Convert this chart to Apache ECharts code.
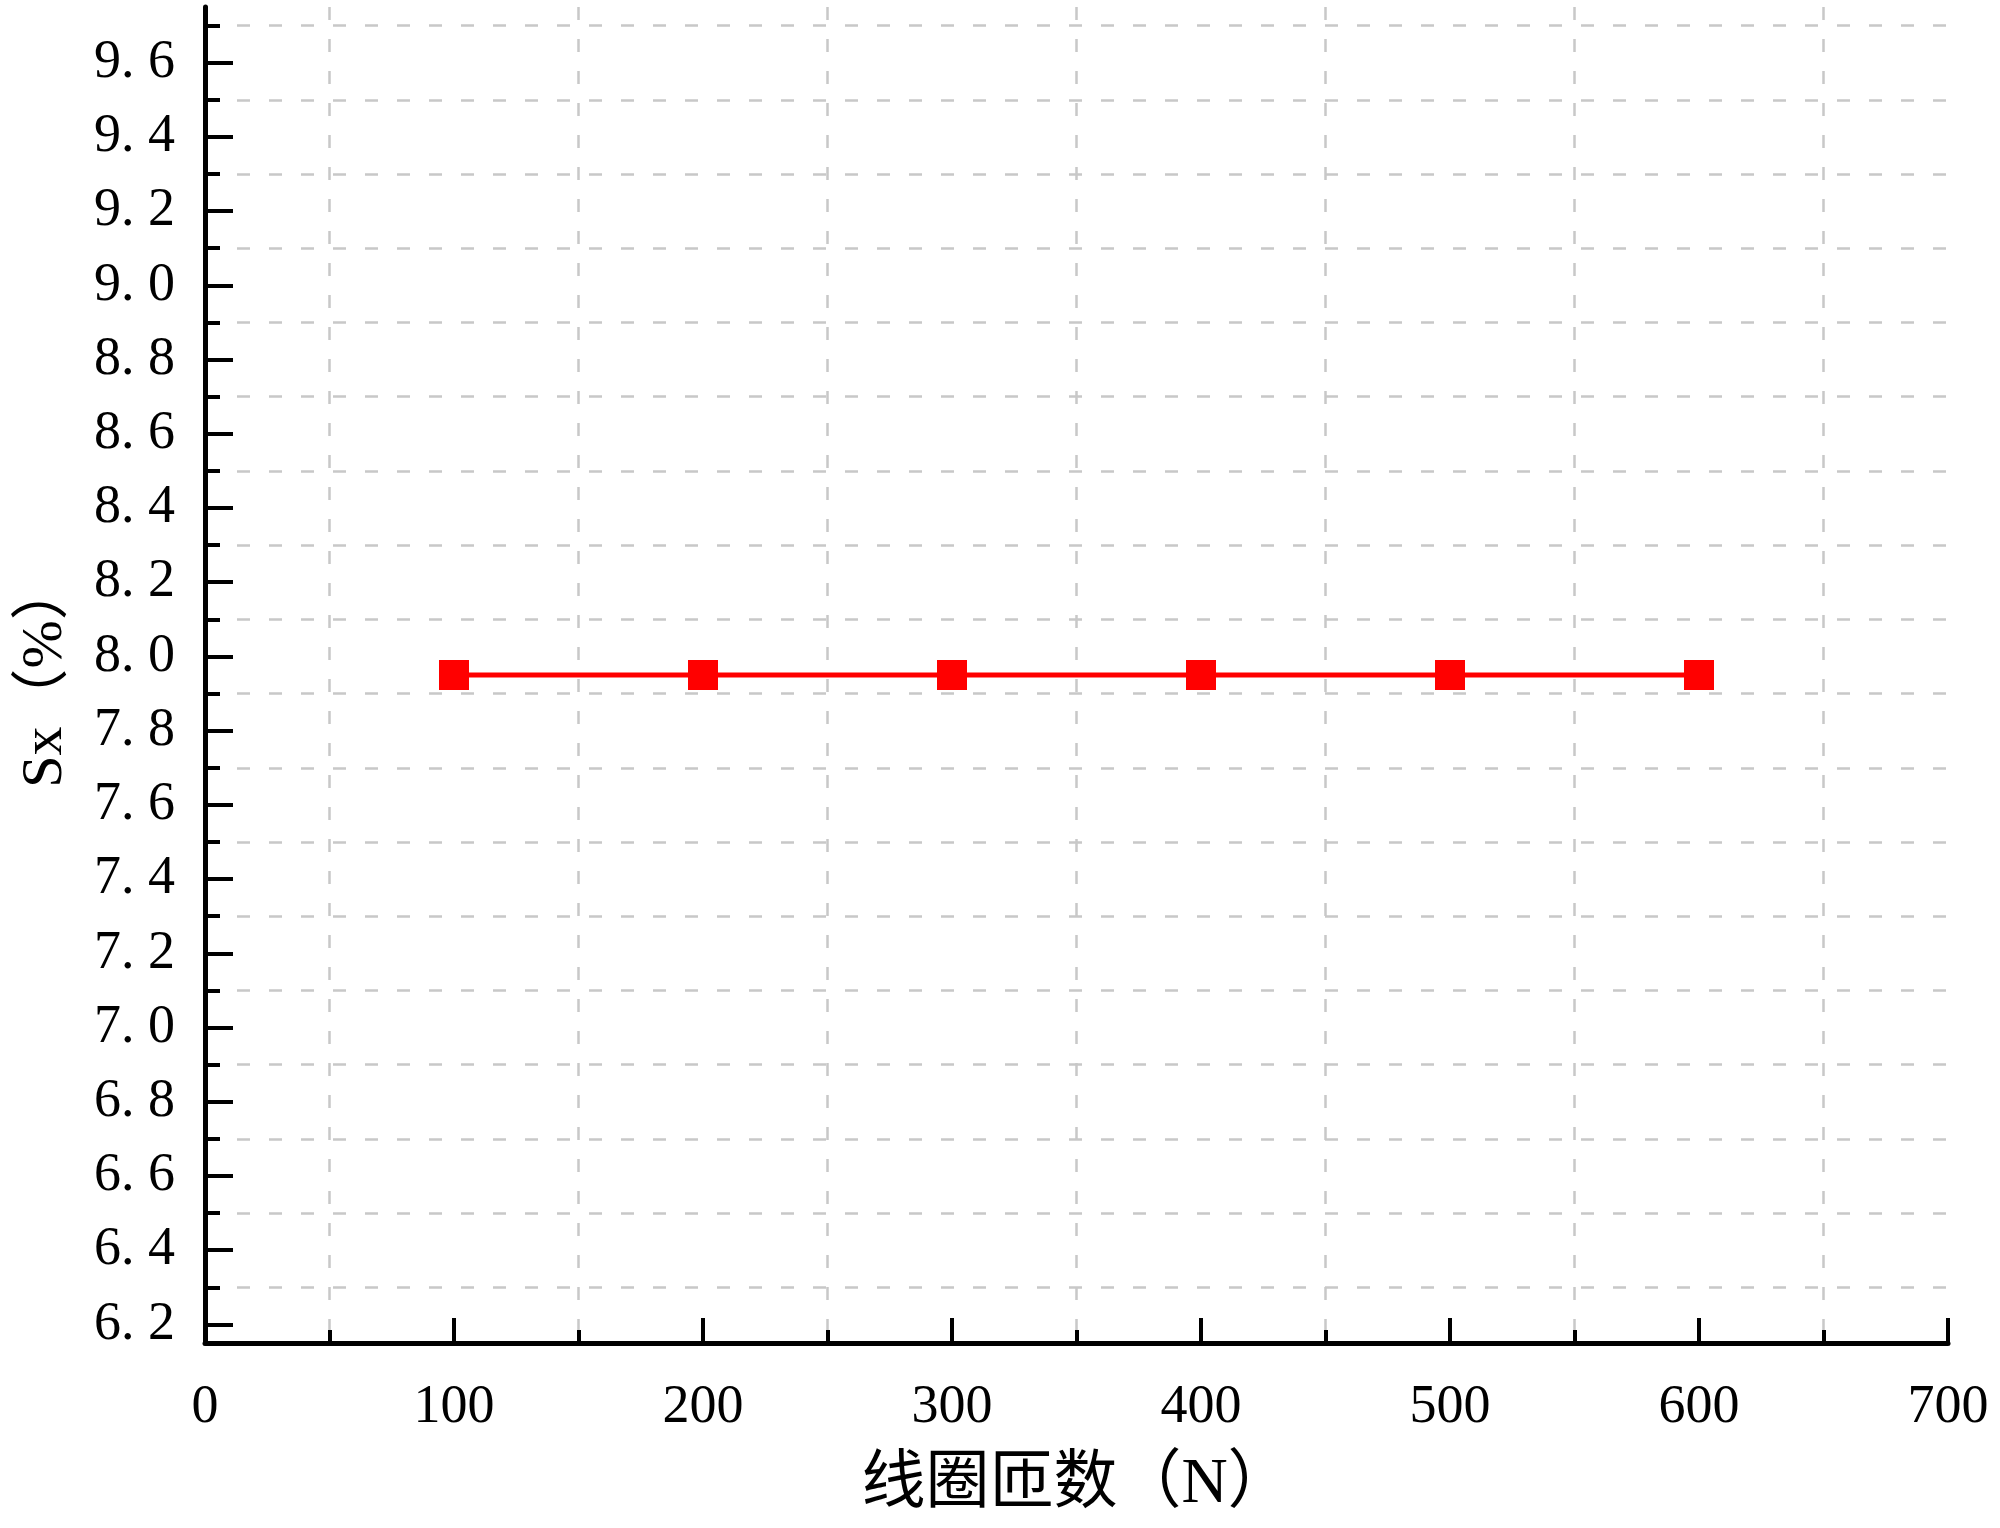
<!DOCTYPE html>
<html>
<head>
<meta charset="utf-8">
<script src="https://cdn.jsdelivr.net/npm/echarts@6/dist/echarts.min.js"></script>
<style>html,body{margin:0;padding:0;background:#fff;}#c{width:2000px;height:1528px;}</style>
</head>
<body>
<div id="c"></div>
<script>
const turns = [100, 200, 300, 400, 500, 600];
const sxValues = [7.95, 7.95, 7.95, 7.95, 7.95, 7.95];
const yLabelValues = [6.2, 6.4, 6.6, 6.8, 7.0, 7.2, 7.4, 7.6, 7.8, 8.0, 8.2, 8.4, 8.6, 8.8, 9.0, 9.2, 9.4, 9.6];
const yGridValues = [6.3, 6.5, 6.7, 6.9, 7.1, 7.3, 7.5, 7.7, 7.9, 8.1, 8.3, 8.5, 8.7, 8.9, 9.1, 9.3, 9.5, 9.7];
const xAxisName = '线圈匝数（N）';
const yAxisName = 'Sx（%）';

const chart = echarts.init(document.getElementById('c'));
const serif = '"Liberation Serif", "Noto Sans CJK SC", serif';
const gridLine = { show: true, lineStyle: { color: '#c8c8c8', width: 2.5, type: [13, 19] } };
chart.setOption({
  animation: false,
  backgroundColor: '#ffffff',
  grid: { left: 205, right: 52, top: 7, bottom: 185, containLabel: false, outerBoundsMode: 'none' },
  xAxis: {
    type: 'value', min: 0, max: 700, interval: 100,
    name: xAxisName, nameLocation: 'middle', nameGap: 110,
    nameTextStyle: { fontFamily: serif, fontSize: 64, color: '#000' },
    axisLine: { show: true, onZero: false, lineStyle: { color: '#000', width: 5 } },
    axisTick: { show: true, inside: true, length: 25, lineStyle: { color: '#000', width: 4 } },
    minorTick: { show: true, splitNumber: 2, length: 13, lineStyle: { color: '#000', width: 4 } },
    axisLabel: { margin: 38, fontFamily: serif, fontSize: 54, color: '#000' },
    splitLine: { show: false },
    minorSplitLine: gridLine
  },
  yAxis: [{
    type: 'value', min: 6.15, max: 9.75, position: 'left',
    name: yAxisName, nameLocation: 'middle', nameGap: 130, nameRotate: 90,
    nameTextStyle: { fontFamily: serif, fontSize: 58, color: '#000' },
    axisLine: { show: true, onZero: false, lineStyle: { color: '#000', width: 5 } },
    axisTick: { show: true, inside: true, length: 28, customValues: yLabelValues, lineStyle: { color: '#000', width: 4 } },
    axisLabel: {
      customValues: yLabelValues, margin: 30, fontFamily: serif, fontSize: 54, color: '#000',
      formatter: v => v.toFixed(1).replace('.', '. ')
    },
    splitLine: { show: false }
  }, {
    type: 'value', min: 6.15, max: 9.75, position: 'left', offset: 0,
    axisLine: { show: false },
    axisTick: { show: true, inside: true, length: 15, customValues: yGridValues, lineStyle: { color: '#000', width: 4 } },
    axisLabel: { show: false },
    splitLine: gridLine
  }],
  series: [{
    type: 'line', data: turns.map((x, i) => [x, sxValues[i]]),
    yAxisIndex: 0,
    symbol: 'rect', symbolSize: 30,
    lineStyle: { color: '#ff0000', width: 5 },
    itemStyle: { color: '#ff0000' }
  }]
});
</script>
</body>
</html>
